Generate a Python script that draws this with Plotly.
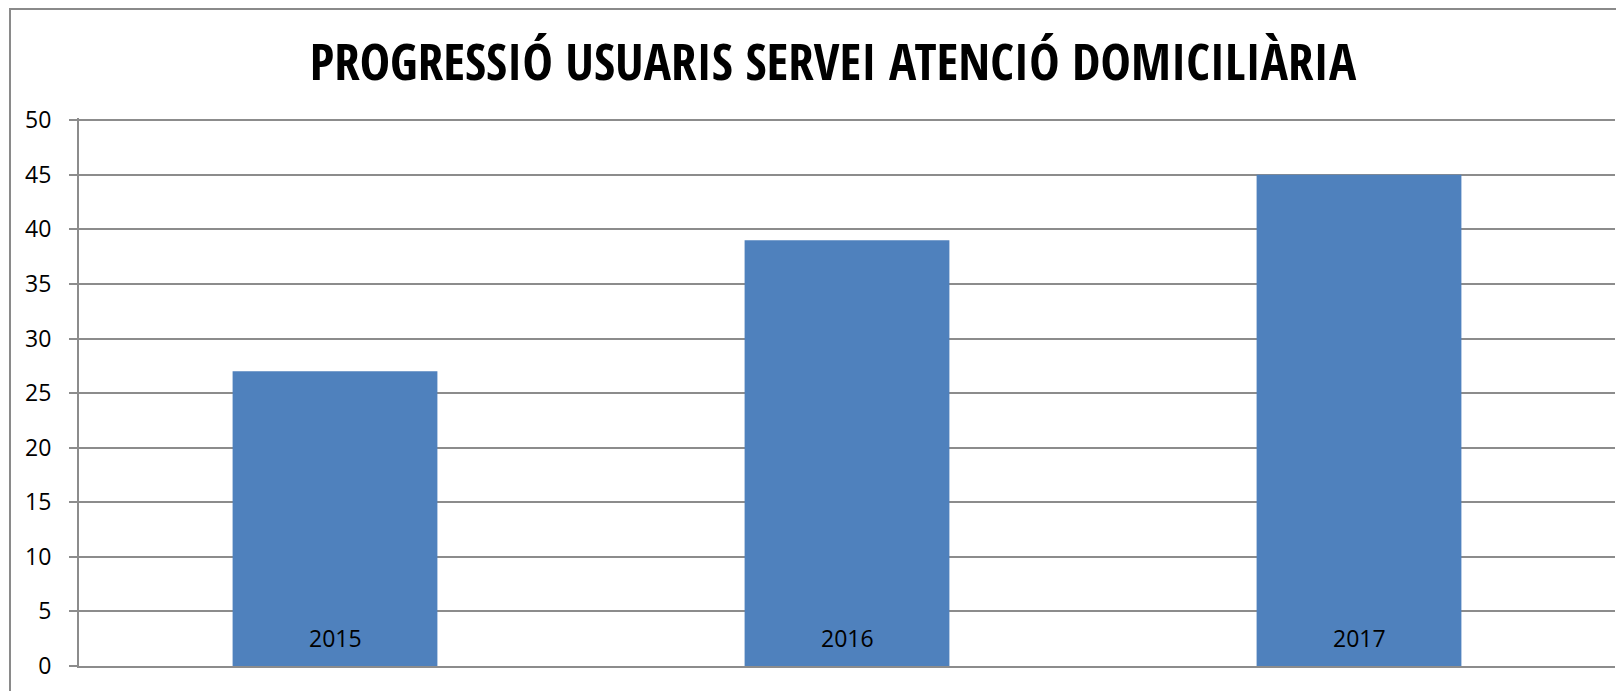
import plotly.graph_objects as go

# values
years = ["2015", "2016", "2017"]
usuaris = [27, 39, 45]
y_ticks = [0, 5, 10, 15, 20, 25, 30, 35, 40, 45, 50]

title_text = "PROGRESSIÓ USUARIS SERVEI ATENCIÓ DOMICILIÀRIA"

W, H = 1624, 691
OFF = 8  # the page body adds an 8px margin, so the figure sits 8px in
Y_TOP = 50.2  # a little headroom so plotly keeps the gridline at 50
M_L, M_R, M_T, M_B = 79 - OFF, W - (1615 - OFF), 120 - OFF - 2, H - (666 - OFF)
GRID = "#8c8c8c"

fig = go.Figure(
    go.Bar(
        x=years,
        y=usuaris,
        marker=dict(color="#4f81bd", line=dict(width=0)),
        hoverinfo="x+y",
    )
)

# year labels sit inside the bars, just above the axis
# (category index, since "2015" would be read as position 2015)
for i, yr in enumerate(years):
    fig.add_annotation(
        x=i, y=0, xref="x", yref="y",
        text=yr, showarrow=False,
        yanchor="middle", yshift=28,
        font=dict(size=23, color="black"),
    )

# outer chart frame (runs off the right and bottom of the picture)
pw, ph = W - M_L - M_R, H - M_T - M_B
fig.add_shape(
    type="rect",
    xref="paper", yref="paper",
    x0=(2 - M_L) / pw, x1=(W + 20 - M_L) / pw,
    y0=-(M_B + 20) / ph, y1=(H - 1 - M_B) / ph,
    line=dict(color="#8a8a8a", width=2),
    fillcolor="rgba(0,0,0,0)",
    layer="below",
)

fig.update_layout(
    width=W,
    height=H,
    margin=dict(l=M_L, r=M_R, t=M_T, b=M_B),
    paper_bgcolor="white",
    plot_bgcolor="white",
    bargap=0.6,
    showlegend=False,
    font=dict(family="Open Sans, DejaVu Sans, sans-serif", size=22, color="black"),
    title=dict(
        text="<b>" + title_text + "</b>",
        x=0.508,
        xanchor="center",
        y=0.921,
        yanchor="middle",
        font=dict(family="Liberation Sans Narrow, Open Sans Condensed, Open Sans, sans-serif", size=51, color="black"),
    ),
    xaxis=dict(
        type="category",
        categoryorder="array",
        categoryarray=years,
        range=[-0.5, len(years) - 0.5],
        showgrid=False,
        showline=True,
        linecolor=GRID,
        linewidth=2,
        ticks="",
        showticklabels=False,
    ),
    yaxis=dict(
        range=[0, Y_TOP],
        tickvals=y_ticks,
        showgrid=True,
        gridcolor=GRID,
        gridwidth=2,
        showline=True,
        linecolor=GRID,
        linewidth=2,
        ticks="outside",
        ticklen=8,
        tickwidth=2,
        tickcolor=GRID,
        zeroline=False,
        ticklabelstandoff=13,
        tickfont=dict(size=23),
    ),
)

fig.write_html("out.html")
